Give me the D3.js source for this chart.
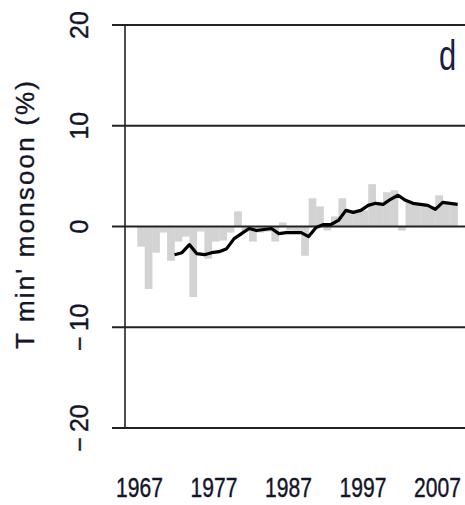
<!DOCTYPE html>
<html><head><meta charset="utf-8">
<script src="https://cdn.jsdelivr.net/npm/d3@7/dist/d3.min.js"></script>
<style>body{margin:0;background:#fff}svg{display:block}</style>
</head><body>
<script>
const years = d3.range(1967, 2010);
const anomaly = [-2.0,-6.2,-2.6,-0.6,-3.4,-1.5,-1.0,-7.0,-0.5,-3.2,
  -1.5,-1.4,-0.6,1.5,-0.5,-1.5,-0.6,-0.5,-1.5,0.4,
  -0.4,-0.5,-2.9,2.8,2.0,-0.4,1.0,2.8,1.5,1.6,
  1.6,4.2,2.2,3.4,3.6,-0.4,2.4,2.3,2.2,2.0,
  3.1,2.3,2.3];
const smoothYears = d3.range(1971, 2010);
const smooth = [-2.8,-2.6,-1.8,-2.7,-2.8,-2.6,-2.5,-2.2,-1.2,-0.7,
  -0.2,-0.4,-0.3,-0.2,-0.7,-0.6,-0.6,-0.6,-1.0,-0.1,
  0.2,0.2,0.6,1.6,1.4,1.6,2.1,2.3,2.2,2.7,
  3.1,2.6,2.3,2.2,2.1,1.7,2.4,2.3,2.2];
const yTicks = [-20,-10,0,10,20];
const xTicks = [1967,1977,1987,1997,2007];
const yTitle = "T min' monsoon (%)";
const panel = "d";

const W = 465, H = 505;
const svg = d3.select("body").append("svg").attr("width", W).attr("height", H);
const x = d3.scaleLinear().domain([1967, 2007]).range([139.5, 437.5]);
const y = d3.scaleLinear().domain([-20, 20]).range([428, 25]);
const off = 1.5;
const txt = "#14142a";

// bars
svg.append("g").selectAll("rect").data(years).join("rect")
  .attr("x", d => x(d - 0.5) + off)
  .attr("width", d => x(d + 0.5) - x(d - 0.5) + 0.3)
  .attr("y", (d, i) => y(Math.max(0, anomaly[i])))
  .attr("height", (d, i) => Math.abs(y(anomaly[i]) - y(0)))
  .attr("fill", "#d3d3d3");

// grid lines
svg.append("g").selectAll("line").data(yTicks).join("line")
  .attr("x1", 112).attr("x2", W)
  .attr("y1", d => y(d)).attr("y2", d => y(d))
  .attr("stroke", "#222").attr("stroke-width", 2.2);

// y axis line
svg.append("line").attr("x1", 125).attr("x2", 125)
  .attr("y1", y(20)).attr("y2", y(-20))
  .attr("stroke", "#222").attr("stroke-width", 1.6);

// smoothed line
const line = d3.line().x(d => x(d[0] + 0.5) + off).y(d => y(d[1]));
svg.append("path").datum(smoothYears.map((yr, i) => [yr, smooth[i]]))
  .attr("d", line).attr("fill", "none").attr("stroke", "#000")
  .attr("stroke-width", 3.2).attr("stroke-linejoin", "round");

// y tick labels
const yl = svg.append("g").selectAll("text").data(yTicks).join("text")
  .attr("transform", d => `translate(88,${y(d)}) rotate(-90)`)
  .attr("text-anchor", "middle")
  .attr("font-family", "Liberation Sans, Arial, sans-serif")
  .attr("font-size", 25).attr("fill", txt)
  .attr("stroke", txt).attr("stroke-width", 0.4);
yl.each(function(d) {
  const t = d3.select(this);
  if (d < 0) {
    t.append("tspan").text("\u2212");
    t.append("tspan").attr("dx", 5).text(String(Math.abs(d)));
  } else t.text(String(d));
});

// x tick labels (condensed)
svg.append("g").selectAll("text").data(xTicks).join("text")
  .attr("transform", d => `translate(${x(d)},497) scale(0.78,1)`)
  .attr("text-anchor", "middle")
  .attr("font-family", "Liberation Sans, Arial, sans-serif")
  .attr("font-size", 27).attr("fill", txt)
  .attr("stroke", txt).attr("stroke-width", 0.4)
  .text(d => d);

// y title
svg.append("text")
  .attr("transform", "translate(34,215) rotate(-90)")
  .attr("text-anchor", "middle")
  .attr("font-family", "Liberation Sans, Arial, sans-serif")
  .attr("font-size", 26).attr("fill", txt)
  .attr("stroke", txt).attr("stroke-width", 0.35)
  .attr("textLength", 268).attr("lengthAdjust", "spacing")
  .text(yTitle);

// panel letter
svg.append("text").attr("transform", "translate(439,70) scale(0.72,1)")
  .attr("font-family", "Liberation Sans, Arial, sans-serif")
  .attr("font-size", 43).attr("fill", "#1a2040")
  .text(panel);
</script>
</body></html>
